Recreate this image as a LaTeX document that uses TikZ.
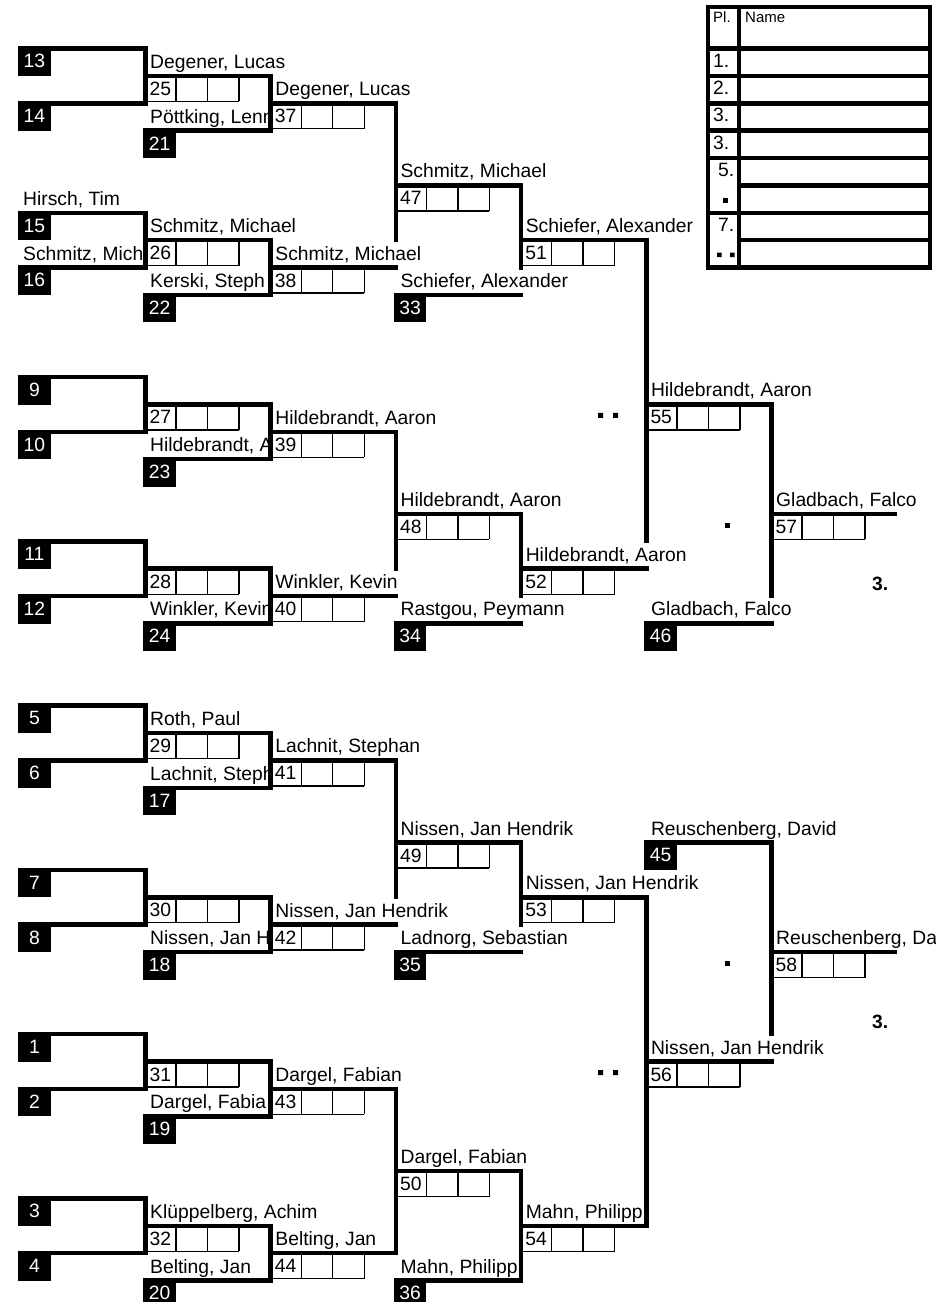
\documentclass[tikz,border=0pt]{standalone}
\usepackage{fontspec}
\setmainfont{Liberation Sans}
\newcommand{\bfont}{\fontsize{19.3}{22}\selectfont}
\newcommand{\hfont}{\fontsize{15}{17}\selectfont}
\newcommand{\ry}[1]{(48.5+27.38*(#1))}
\newcommand{\cx}[1]{(145.5+125.2*(#1))}
% black seed box: left x, row, number
\newcommand{\seedbox}[3]{\node[seed] (s#3) at ({#1},{\ry{#2}-2.25}) {#3};}
% match number and two score cells under a line: column, row, number
\newcommand{\scorerow}[3]{%
  \draw[cline] ({\cx{#1}},{\ry{#2}+25.5}) -- ++(93.5,0)
    ({\cx{#1}+30.5},{\ry{#2}}) -- ++(0,25.5)
    ({\cx{#1}+62},{\ry{#2}}) -- ++(0,25.5)
    ({\cx{#1}+93.5},{\ry{#2}}) -- ++(0,25.5);
  \node[pname] (m#3) at ({\cx{#1}+4},{\ry{#2}+19.5}) {#3};}
% player name over a line: x, row, text, node
\newcommand{\pname}[4]{\node[pname] (#4) at ({#1},{\ry{#2}-7.5}) {#3};}
% same, cut off at x = #3
\newcommand{\cutname}[5]{\begin{scope}
  \clip ({#1-6},{\ry{#2}-30}) rectangle ({#3},{\ry{#2}+2});
  \node[pname] (#5) at ({#1},{\ry{#2}-7.5}) {#4};
  \end{scope}}
% rounds 1 and 2 of one block: base row, seeds, match, late seed, match
\newcommand{\drawblock}[6]{%
  \draw[bline] (18,{\ry{#1}}) -| ({\cx{0}},{\ry{#1+2}}) -- (18,{\ry{#1+2}});
  \draw[bline] ({\cx{0}},{\ry{#1+1}}) -| ({\cx{1}},{\ry{#1+3}}) -- ({\cx{0}-2.25},{\ry{#1+3}});
  \draw[bline] ({\cx{1}},{\ry{#1+2}}) -- ({\cx{2}+2.25},{\ry{#1+2}});
  \seedbox{18}{#1}{#2}
  \seedbox{18}{#1+2}{#3}
  \seedbox{\cx{0}-2.25}{#1+3}{#5}
  \scorerow{0}{#1+1}{#4}
  \scorerow{1}{#1+2}{#6}}

\begin{document}
\begin{tikzpicture}[x=1pt, y=-1pt,
    bline/.style={line width=4.5pt},
    cline/.style={line width=1.4pt},
    seed/.style={anchor=north west, fill=black, text=white, inner sep=0pt,
                 minimum width=32.5pt, minimum height=29.5pt, font=\bfont},
    pname/.style={anchor=base west, inner sep=0pt, font=\bfont}]
  \useasboundingbox (0,0) rectangle (950,1302);
  % Rounds 1 and 2
  \drawblock{0}{13}{14}{25}{21}{37}
  \drawblock{6}{15}{16}{26}{22}{38}
  \drawblock{12}{9}{10}{27}{23}{39}
  \drawblock{18}{11}{12}{28}{24}{40}
  \drawblock{24}{5}{6}{29}{17}{41}
  \drawblock{30}{7}{8}{30}{18}{42}
  \drawblock{36}{1}{2}{31}{19}{43}
  \drawblock{42}{3}{4}{32}{20}{44}
  % Round 3
  \draw[bline] ({\cx{2}},{\ry{2}-2.25}) -- ({\cx{2}},{\ry{7}+2});
  \draw[bline] ({\cx{2}},{\ry{5}}) -| ({\cx{3}},{\ry{8}+2});
  \draw[bline] ({\cx{2}-2.25},{\ry{9}}) -- ({\cx{3}+2.25},{\ry{9}});
  \seedbox{\cx{2}-2.25}{9}{33}
  \scorerow{2}{5}{47}
  \draw[bline] ({\cx{2}},{\ry{14}-2.25}) -- ({\cx{2}},{\ry{19}+2});
  \draw[bline] ({\cx{2}},{\ry{17}}) -| ({\cx{3}},{\ry{20}+2});
  \draw[bline] ({\cx{2}-2.25},{\ry{21}}) -- ({\cx{3}+2.25},{\ry{21}});
  \seedbox{\cx{2}-2.25}{21}{34}
  \scorerow{2}{17}{48}
  \draw[bline] ({\cx{2}},{\ry{26}-2.25}) -- ({\cx{2}},{\ry{31}+2});
  \draw[bline] ({\cx{2}},{\ry{29}}) -| ({\cx{3}},{\ry{32}+2});
  \draw[bline] ({\cx{2}-2.25},{\ry{33}}) -- ({\cx{3}+2.25},{\ry{33}});
  \seedbox{\cx{2}-2.25}{33}{35}
  \scorerow{2}{29}{49}
  \draw[bline] ({\cx{2}},{\ry{38}-2.25}) -- ({\cx{2}},{\ry{44}+2.25});
  \draw[bline] ({\cx{2}},{\ry{41}}) -| ({\cx{3}},{\ry{45}});
  \draw[bline] ({\cx{2}-2.25},{\ry{45}}) -- ({\cx{3}+2.25},{\ry{45}});
  \seedbox{\cx{2}-2.25}{45}{36}
  \scorerow{2}{41}{50}
  % Round 4
  \draw[bline] ({\cx{3}},{\ry{7}}) -| ({\cx{4}},{\ry{18}+2});
  \draw[bline] ({\cx{3}},{\ry{19}}) -- ({\cx{4}+2.25},{\ry{19}});
  \draw[bline] ({\cx{3}},{\ry{31}}) -| ({\cx{4}},{\ry{43}});
  \draw[bline] ({\cx{3}},{\ry{43}}) -- ({\cx{4}+2.25},{\ry{43}});
  \scorerow{3}{7}{51}
  \scorerow{3}{19}{52}
  \scorerow{3}{31}{53}
  \scorerow{3}{43}{54}
  % Round 5
  \draw[bline] ({\cx{4}},{\ry{13}}) -| ({\cx{5}},{\ry{20}+2});
  \draw[bline] ({\cx{4}-2.25},{\ry{21}}) -- ({\cx{5}+2.25},{\ry{21}});
  \draw[bline] ({\cx{4}-2.25},{\ry{29}}) -| ({\cx{5}},{\ry{36}+2});
  \draw[bline] ({\cx{4}},{\ry{37}}) -- ({\cx{5}+2.25},{\ry{37}});
  \seedbox{\cx{4}-2.25}{21}{46}
  \seedbox{\cx{4}-2.25}{29}{45}
  \scorerow{4}{13}{55}
  \scorerow{4}{37}{56}
  % Round 6
  \draw[bline] ({\cx{5}},{\ry{17}}) -- ({\cx{6}},{\ry{17}});
  \draw[bline] ({\cx{5}},{\ry{33}}) -- ({\cx{6}},{\ry{33}});
  \scorerow{5}{17}{57}
  \scorerow{5}{33}{58}
  % Names, rounds 1 and 2
  \pname{\cx{0}+4.5}{1}{Degener, Lucas}{n25}
  \cutname{\cx{0}+4.5}{3}{\cx{1}-2.25}{Pöttking, Lenn}{n21}
  \pname{\cx{1}+4.5}{2}{Degener, Lucas}{n37}
  \pname{23}{6}{Hirsch, Tim}{n15}
  \cutname{23}{8}{\cx{0}-2.25}{Schmitz, Mich}{n16}
  \pname{\cx{0}+4.5}{7}{Schmitz, Michael}{n26}
  \cutname{\cx{0}+4.5}{9}{\cx{1}-2.25}{Kerski, Steph}{n22}
  \pname{\cx{1}+4.5}{8}{Schmitz, Michael}{n38}
  \cutname{\cx{0}+4.5}{15}{\cx{1}-2.25}{Hildebrandt, A}{n23}
  \pname{\cx{1}+4.5}{14}{Hildebrandt, Aaron}{n39}
  \cutname{\cx{0}+4.5}{21}{\cx{1}-2.25}{Winkler, Kevin}{n24}
  \pname{\cx{1}+4.5}{20}{Winkler, Kevin}{n40}
  \pname{\cx{0}+4.5}{25}{Roth, Paul}{n29}
  \cutname{\cx{0}+4.5}{27}{\cx{1}-2.25}{Lachnit, Steph}{n17}
  \pname{\cx{1}+4.5}{26}{Lachnit, Stephan}{n41}
  \cutname{\cx{0}+4.5}{33}{\cx{1}-2.25}{Nissen, Jan H}{n18}
  \pname{\cx{1}+4.5}{32}{Nissen, Jan Hendrik}{n42}
  \cutname{\cx{0}+4.5}{39}{\cx{1}-2.25}{Dargel, Fabia}{n19}
  \pname{\cx{1}+4.5}{38}{Dargel, Fabian}{n43}
  \pname{\cx{0}+4.5}{43}{Klüppelberg, Achim}{n32}
  \pname{\cx{0}+4.5}{45}{Belting, Jan}{n20}
  \pname{\cx{1}+4.5}{44}{Belting, Jan}{n44}
  % Names, rounds 3 to 6
  \pname{\cx{2}+4.5}{5}{Schmitz, Michael}{n47}
  \pname{\cx{2}+4.5}{9}{Schiefer, Alexander}{n33}
  \pname{\cx{3}+4.5}{7}{Schiefer, Alexander}{n51}
  \pname{\cx{2}+4.5}{17}{Hildebrandt, Aaron}{n48}
  \pname{\cx{2}+4.5}{21}{Rastgou, Peymann}{n34}
  \pname{\cx{3}+4.5}{19}{Hildebrandt, Aaron}{n52}
  \pname{\cx{2}+4.5}{29}{Nissen, Jan Hendrik}{n49}
  \pname{\cx{2}+4.5}{33}{Ladnorg, Sebastian}{n35}
  \pname{\cx{3}+4.5}{31}{Nissen, Jan Hendrik}{n53}
  \pname{\cx{2}+4.5}{41}{Dargel, Fabian}{n50}
  \cutname{\cx{2}+4.5}{45}{\cx{3}-2.25}{Mahn, Philipp}{n36}
  \cutname{\cx{3}+4.5}{43}{\cx{4}-2.25}{Mahn, Philipp}{n54}
  \cutname{\cx{4}+4.5}{13}{811}{Hildebrandt, Aaron}{n55}
  \pname{\cx{4}+4.5}{21}{Gladbach, Falco}{n46}
  \pname{\cx{4}+4.5}{29}{Reuschenberg, David}{n45}
  \pname{\cx{4}+4.5}{37}{Nissen, Jan Hendrik}{n56}
  \pname{\cx{5}+4.5}{17}{Gladbach, Falco}{n57}
  \cutname{\cx{5}+4.5}{33}{935}{Reuschenberg, Da}{n58}
  % Markers
  \fill (598,{\ry{13}+8.5}) rectangle ++(5,5) (613,{\ry{13}+8.5}) rectangle ++(5,5);
  \fill (725,{\ry{17}+9}) rectangle ++(5,5);
  \fill (598,{\ry{37}+8.5}) rectangle ++(5,5) (613,{\ry{37}+8.5}) rectangle ++(5,5);
  \fill (725,{\ry{33}+9}) rectangle ++(5,5);
  \node[pname, font=\bfont\bfseries] (third1) at (872,{\ry{19}+21.5}) {3.};
  \node[pname, font=\bfont\bfseries] (third2) at (872,{\ry{35}+21.5}) {3.};
  % Placing table
  \draw[bline] (708,7) rectangle (930,{\ry{8}});
  \draw[bline] (739,7) -- (739,{\ry{8}});
  \draw[bline] (708,{\ry{0}}) -- (930,{\ry{0}}) (708,{\ry{1}}) -- (930,{\ry{1}})
    (708,{\ry{2}}) -- (930,{\ry{2}}) (708,{\ry{3}}) -- (930,{\ry{3}})
    (708,{\ry{4}}) -- (930,{\ry{4}}) (739,{\ry{5}}) -- (930,{\ry{5}})
    (708,{\ry{6}}) -- (930,{\ry{6}}) (739,{\ry{7}}) -- (930,{\ry{7}});
  \node[pname, font=\hfont] (pl) at (713,22) {Pl.};
  \node[pname, font=\hfont] (nm) at (745,22) {Name};
  \node[pname] (pa) at (713,{\ry{0}+18.5}) {1.};
  \node[pname] (pb) at (713,{\ry{1}+18.5}) {2.};
  \node[pname] (pc) at (713,{\ry{2}+18.5}) {3.};
  \node[pname] (pd) at (713,{\ry{3}+18.5}) {3.};
  \node[pname] (pe) at (718,{\ry{4}+18.5}) {5.};
  \node[pname] (pf) at (718,{\ry{6}+18.5}) {7.};
  \fill (723,{\ry{5}+13}) rectangle ++(4.5,4.5);
  \fill (717,{\ry{7}+12.5}) rectangle ++(4.5,4.5) (730,{\ry{7}+12.5}) rectangle ++(4.5,4.5);
\end{tikzpicture}
\end{document}
